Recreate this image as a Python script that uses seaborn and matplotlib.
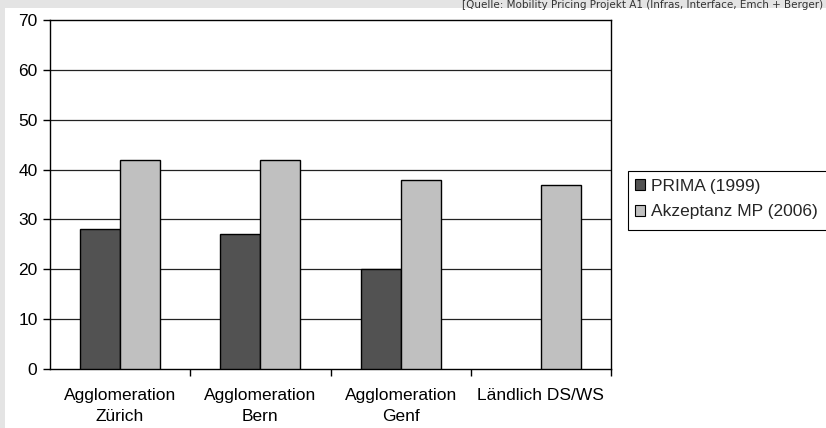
import numpy as np
import pandas as pd
import matplotlib
matplotlib.use("Agg")
import matplotlib.pyplot as plt
import seaborn as sns
from matplotlib.patches import Rectangle, Patch

categories = ["Agglomeration\nZürich", "Agglomeration\nBern", "Agglomeration\nGenf", "Ländlich DS/WS"]
series_names = ["PRIMA (1999)", "Akzeptanz MP (2006)"]
prima = [28, 27, 20, np.nan]
akzeptanz = [42, 42, 38, 37]
yticks = [0, 10, 20, 30, 40, 50, 60, 70]
source = "[Quelle: Mobility Pricing Projekt A1 (Infras, Interface, Emch + Berger)"

sns.set_theme(style="white")
plt.rcParams["font.family"] = ["Liberation Sans", "DejaVu Sans"]
FS = 12.5

df = pd.DataFrame({
    "Kategorie": categories * 2,
    "Serie": [series_names[0]] * 4 + [series_names[1]] * 4,
    "Wert": prima + akzeptanz,
})

fig = plt.figure(figsize=(8.26, 4.28), dpi=100)
fig.patch.set_facecolor("#e4e4e4")
fig.patches.append(Rectangle((5 / 826, 0), 1, 1 - 8 / 428, transform=fig.transFigure,
                             facecolor="white", edgecolor="none", zorder=-5))
ax = fig.add_axes([50 / 826, 1 - 369 / 428, 561 / 826, 349 / 428])

sns.barplot(data=df, x="Kategorie", y="Wert", hue="Serie", order=categories,
            hue_order=series_names, palette=["#525252", "#c0c0c0"],
            width=0.57, edgecolor="black", linewidth=1.0, ax=ax, legend=False, zorder=3)

ax.set_ylim(0, 70)
ax.set_xlim(-0.5, 3.5)
ax.set_yticks(yticks)
ax.set_yticklabels([str(t) for t in yticks], fontsize=FS, color="black")
ax.set_xticks(range(4))
ax.set_xticklabels(categories, fontsize=FS, color="black", linespacing=1.45)
ax.tick_params(axis="x", which="major", length=0, pad=14)
ax.set_xticks([0.5, 1.5, 2.5, 3.5], minor=True)
ax.tick_params(axis="x", which="minor", length=5, width=1, color="black", direction="out", bottom=True)
ax.tick_params(axis="y", length=5, width=1, color="black", direction="out", left=True, pad=4)
for y in yticks[1:-1]:
    ax.axhline(y, color="#222222", linewidth=0.9, zorder=1)
for s in ax.spines.values():
    s.set_visible(True)
    s.set_color("black")
    s.set_linewidth(1.0)
ax.set_xlabel("")
ax.set_ylabel("")
ax.set_facecolor("white")

handles = [Patch(facecolor="#525252", edgecolor="black", linewidth=0.8),
           Patch(facecolor="#c0c0c0", edgecolor="black", linewidth=0.8)]
leg = fig.legend(handles, series_names, loc="upper left",
                 bbox_to_anchor=(635 / 826, 1 - 179 / 428), bbox_transform=fig.transFigure,
                 fontsize=FS, frameon=False, handlelength=0.6,
                 handleheight=0.6, handletextpad=0.3, borderpad=0.0, labelspacing=0.6,
                 borderaxespad=0)
fig.patches.append(Rectangle((628 / 826, 1 - 230 / 428), 0.3, 59 / 428, transform=fig.transFigure,
                             facecolor="white", edgecolor="black", linewidth=0.8, zorder=1))

fig.text(823 / 826, 1 - 5 / 428, source, ha="right", va="center", fontsize=7.5,
         color="#333333", family="DejaVu Sans")

fig.savefig("out.png", dpi=100)
